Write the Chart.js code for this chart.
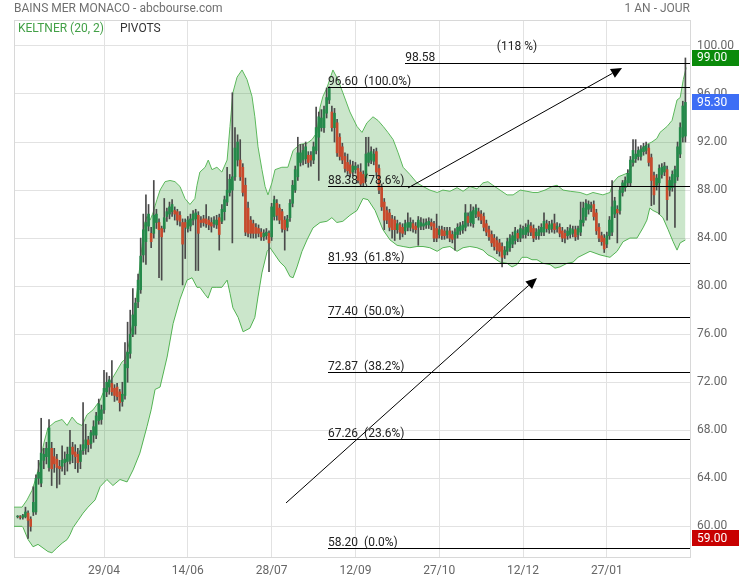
<!DOCTYPE html>
<html><head><meta charset="utf-8">
<script src="https://cdn.jsdelivr.net/npm/chart.js@4.4.1/dist/chart.umd.min.js"></script>
<style>html,body{margin:0;padding:0;background:#fff;}#wrap{width:739px;height:580px;}</style>
</head><body><div id="wrap"><canvas id="c" width="739" height="580"></canvas></div>
<script>
// ---- DATA ----
const opens = [
60.8,60.8,60.75,60.8,61.1,60.6,61.2,61.2,64.0,63.6,
65.5,65.8,64.9,66.5,65.8,65.6,65.0,65.0,65.3,65.4,
65.5,66.6,66.2,66.0,65.4,66.3,66.5,67.2,66.9,67.6,
67.6,68.8,68.9,69.7,71.2,71.6,71.9,71.5,71.6,71.2,
70.4,70.9,73.2,74.4,76.0,76.7,78.7,79.7,82.6,83.7,
85.0,84.4,84.4,85.3,85.3,84.8,84.8,85.8,86.0,86.2,
86.3,86.2,85.9,85.3,85.3,84.8,85.0,85.5,85.6,85.9,
85.5,85.6,85.6,85.5,85.3,85.2,85.1,85.7,85.4,86.2,
87.0,87.8,88.0,89.1,90.5,90.5,89.9,88.4,86.5,85.5,
85.2,84.9,84.8,84.5,84.1,84.2,84.4,84.1,85.8,86.9,
86.5,86.2,85.5,84.9,85.7,86.9,88.0,89.1,90.3,90.5,
90.6,90.9,90.9,90.5,91.3,92.4,93.2,93.2,94.4,95.5,
94.5,93.2,93.6,92.4,91.6,90.8,90.3,90.1,89.5,89.7,
89.8,89.5,89.3,89.0,90.3,90.5,90.4,91.2,89.8,88.2,
87.0,86.3,86.1,85.6,85.5,84.7,85.1,84.9,84.6,84.9,
84.9,85.2,85.0,84.9,85.0,85.0,85.1,85.1,85.3,85.2,
84.8,84.3,84.7,84.6,84.3,84.6,84.3,84.0,84.3,84.6,
84.7,84.9,85.8,85.3,85.2,86.0,86.2,86.0,85.8,85.2,
84.7,84.3,84.0,83.8,83.6,83.3,82.6,82.9,83.2,83.5,
83.8,84.4,84.0,84.3,84.3,84.5,85.0,84.8,84.2,84.2,
84.5,84.5,85.2,84.7,84.8,85.2,84.8,84.9,84.6,84.4,
84.2,84.3,84.4,84.7,84.3,84.5,85.3,85.8,86.4,86.5,
86.8,86.1,84.9,84.2,84.0,83.5,84.2,84.5,86.0,86.4,
86.3,87.8,88.2,88.6,88.6,90.3,90.6,90.8,90.8,91.2,
91.3,91.5,90.7,89.2,88.4,88.6,89.3,89.5,89.7,88.0,
88.2,88.6,89.1,91.0,92.4,92.5];
const highs = [
60.9,60.9,61.0,61.6,61.3,60.8,63.3,64.3,65.5,69.0,
66.5,67.0,68.9,67.0,66.5,66.0,65.5,66.7,66.2,66.6,
68.0,67.0,66.8,66.5,66.8,70.3,68.5,67.5,68.0,68.8,
69.5,70.6,70.1,73.0,72.8,72.5,73.8,71.8,71.9,71.4,
72.0,75.3,77.0,78.0,79.8,79.0,81.0,84.0,86.0,87.6,
86.8,84.9,88.8,86.4,85.6,85.0,87.3,86.5,87.0,87.2,
86.6,86.4,86.2,85.6,85.6,85.8,86.0,86.3,86.4,86.2,
85.8,85.9,86.8,85.8,85.7,85.8,85.9,86.0,86.8,87.5,
89.9,89.3,96.1,93.2,92.6,92.2,90.2,89.0,87.0,85.8,
85.5,85.2,85.1,84.8,84.7,84.8,84.6,86.9,87.5,87.2,
86.8,86.4,85.8,85.9,87.2,88.8,90.0,92.4,91.8,91.8,
92.0,91.2,91.2,92.0,94.9,94.5,94.7,95.0,96.5,96.6,
95.0,94.8,93.9,92.7,91.9,91.1,91.0,90.5,90.4,90.3,
90.1,90.2,89.6,92.4,92.4,91.6,91.4,91.5,90.1,88.5,
87.3,86.6,86.4,85.9,85.8,85.5,85.3,85.2,85.5,86.1,
85.7,85.5,85.3,85.8,85.7,85.6,85.6,85.7,85.6,85.4,
86.0,85.0,85.0,84.9,84.9,84.9,84.6,84.8,85.2,85.3,
85.4,86.8,86.1,86.8,86.6,86.8,86.5,86.3,86.1,85.5,
85.0,84.6,84.3,84.1,83.9,83.6,83.3,84.0,84.3,84.5,
84.9,84.7,85.1,85.0,85.2,85.5,85.3,85.1,84.8,85.0,
85.2,86.1,85.5,85.4,85.5,86.0,85.3,85.2,84.9,84.7,
84.9,85.1,85.0,85.0,85.0,87.0,87.0,87.2,87.1,87.0,
87.1,86.4,85.2,84.5,84.3,84.5,85.8,88.8,87.4,86.7,
88.3,88.8,89.1,89.7,90.8,92.2,92.2,91.6,91.7,91.9,
92.0,91.8,91.0,89.5,89.3,90.1,90.2,90.3,90.0,89.1,
89.6,90.0,92.0,93.6,95.4,99.0];
const lows = [
60.7,60.6,60.6,60.7,59.0,59.6,60.9,61.0,63.5,63.3,
64.8,65.2,64.6,63.4,64.5,63.2,63.5,64.6,64.3,64.6,
65.2,65.3,64.8,64.5,64.8,66.0,66.0,66.2,66.5,67.0,
67.3,68.5,68.5,69.4,70.8,71.0,70.9,70.4,70.5,69.6,
70.0,70.6,72.0,74.0,75.8,76.0,78.2,79.4,82.0,81.8,
84.6,83.2,84.0,84.8,80.7,80.5,84.5,85.4,85.6,85.8,
85.5,85.1,85.0,80.1,82.3,84.5,84.6,85.1,81.3,81.3,
84.9,85.0,84.9,84.7,84.5,84.9,84.8,83.0,85.2,85.5,
86.7,87.5,83.6,88.8,90.0,88.8,87.5,84.2,84.1,84.0,
84.0,84.0,84.1,83.8,83.8,83.9,81.2,83.8,85.5,85.5,
85.2,84.5,83.0,84.6,85.4,86.6,87.8,88.8,90.0,90.1,
90.2,89.9,90.0,90.2,91.0,88.8,92.9,92.8,94.0,95.2,
92.9,92.0,90.8,90.5,90.2,89.5,89.3,89.1,89.2,89.4,
88.6,88.3,88.3,88.7,90.0,90.2,90.1,89.2,87.7,86.3,
84.7,85.2,84.6,84.0,83.8,84.4,83.9,84.1,84.3,84.6,
84.6,84.5,84.4,83.4,84.7,84.7,84.8,84.8,84.7,83.7,
83.7,84.0,83.9,83.9,84.0,83.7,83.6,83.0,84.0,84.3,
84.4,84.6,85.0,85.0,84.9,85.7,85.5,85.2,84.6,84.2,
83.8,83.3,83.0,82.7,82.5,81.6,82.3,82.6,82.9,83.2,
83.5,83.7,83.7,84.0,84.0,84.2,84.2,83.7,83.9,83.9,
84.2,84.2,84.5,84.4,84.5,84.4,84.5,84.1,83.7,83.6,
83.9,84.0,84.1,83.8,83.9,84.2,85.0,85.5,86.0,86.2,
85.5,84.3,83.7,83.4,82.8,83.2,83.9,84.2,85.7,83.6,
86.0,87.5,87.9,88.3,88.3,90.0,90.3,90.5,90.5,90.9,
91.0,90.0,86.7,86.8,88.0,86.0,89.0,89.2,85.5,87.5,
87.9,84.9,88.8,90.7,92.0,92.0];
const closes = [
60.85,60.75,60.9,61.2,60.5,60.0,62.0,64.0,64.5,66.1,
66.0,66.5,68.2,64.8,65.2,64.9,64.8,65.5,65.6,66.0,
66.6,66.0,65.8,65.3,66.3,66.8,67.2,66.8,67.8,68.3,
69.2,70.2,69.7,71.5,72.0,72.2,71.2,70.9,70.8,70.3,
71.0,73.5,74.5,76.0,77.6,78.6,80.5,82.5,84.7,85.3,
86.0,83.7,85.9,86.0,84.7,84.1,85.7,86.2,86.6,86.8,
86.0,85.5,85.4,83.5,84.9,85.5,85.6,86.0,86.1,84.4,
85.3,85.3,85.2,85.1,85.0,85.5,85.5,84.3,86.4,87.2,
88.0,88.9,89.1,91.5,92.0,89.1,87.8,84.5,84.4,84.4,
84.4,84.4,84.4,84.1,84.4,84.5,83.6,86.6,87.2,85.9,
85.5,84.8,84.7,85.6,86.9,88.4,89.7,91.1,91.1,91.3,
91.6,90.3,90.5,91.6,93.2,94.1,94.0,94.7,95.7,96.5,
93.2,94.4,91.1,90.8,90.5,89.8,89.6,89.4,90.0,90.0,
88.8,88.5,88.6,91.0,91.1,91.2,91.0,89.5,88.0,86.6,
85.5,85.5,84.9,84.7,84.7,85.2,84.5,84.4,85.2,85.3,
85.3,84.8,84.7,85.5,85.3,85.2,85.3,85.4,85.0,84.0,
84.0,84.7,84.2,84.2,84.6,84.0,83.9,84.5,84.9,85.0,
85.1,86.1,85.3,86.2,86.3,86.5,85.8,85.5,84.9,84.5,
84.1,83.6,83.3,83.0,82.9,82.4,83.0,83.7,84.0,84.2,
84.6,84.0,84.8,84.7,84.9,85.1,84.5,84.0,84.5,84.7,
84.9,85.4,84.8,85.1,85.2,84.7,85.0,84.4,84.0,84.0,
84.6,84.8,84.7,84.1,84.8,85.5,86.5,86.9,86.8,86.7,
85.8,84.6,84.0,83.7,83.1,84.2,85.5,86.6,87.1,86.1,
88.0,88.6,88.8,89.4,90.5,91.3,91.0,91.3,91.4,91.6,
91.7,90.3,88.8,87.6,89.0,89.8,89.9,90.0,87.2,88.8,
89.3,89.7,91.6,93.2,95.0,95.3];

// Keltner band (bar index, price)
const upperIdx = [-1.4,1.7,3.6,5.5,7.0,8.6,10.1,11.6,14.3,17.0,18.9,20.8,22.7,24.6,26.5,28.8,31.5,32.6,36.4,39.9,41.0,42.2,43.7,44.8,46.0,47.5,48.6,49.4,50.6,51.7,53.2,54.4,56.3,58.2,60.1,62.0,63.9,65.8,67.7,68.5,69.6,71.6,72.8,74.2,76.1,78.0,80.0,81.1,82.2,83.8,85.7,87.6,89.5,90.6,91.8,93.3,94.5,95.6,97.1,98.3,100.9,103.2,105.2,107.8,110.5,112.4,114.3,115.5,116.6,118.1,120.4,122.3,124.2,126.9,129.6,131.5,133.4,135.7,137.6,139.6,141.4,143.4,145.3,147.2,149.8,152.5,154.8,157.4,160.2,162.4,165.1,167.8,170.1,172.7,175.4,177.7,179.6,181.5,184.2,186.9,189.2,191.9,194.5,196.8,198.7,201.4,204.1,206.0,208.3,211.0,214.8,217.4,219.7,223.5,226.2,227.3,229.3,232.7,235.0,237.6,240.3,242.2,244.1,245.3,248.0,249.9,251.8,253.0,254.2,255.3];
const upperVal = [61.6,61.6,62.2,63.0,64.0,65.4,67.0,68.2,68.7,68.9,68.4,69.1,68.6,68.4,69.3,69.7,70.5,71.1,72.4,73.7,73.9,74.9,76.6,78.0,80.3,83.3,85.3,85.8,85.5,86.1,87.2,88.0,88.7,88.8,88.7,88.3,87.3,86.8,87.3,88.4,89.5,89.9,90.5,89.7,89.9,89.5,90.5,93.3,96.1,97.4,98.0,97.2,95.8,94.1,91.6,89.7,88.3,87.6,88.6,89.7,89.9,89.9,91.3,91.8,91.9,92.2,92.8,94.9,95.8,96.5,98.0,97.2,96.1,94.5,93.3,92.8,93.6,94.1,93.8,93.3,92.8,92.2,91.1,89.9,89.3,88.6,88.3,88.0,87.8,88.0,87.9,88.2,87.9,88.3,88.1,88.6,88.7,88.4,88.0,87.6,87.6,88.0,87.9,87.8,87.8,88.0,88.3,88.4,88.0,87.9,87.8,87.6,87.8,87.6,87.8,88.6,89.1,89.4,90.1,91.3,91.8,92.0,92.3,92.8,93.3,93.8,95.5,95.7,97.2,98.2];
const lowerIdx = [-1.4,1.7,2.1,4.0,5.9,7.8,9.7,11.6,13.1,15.0,17.0,18.9,20.0,21.2,23.1,25.0,26.9,29.6,31.5,34.1,36.4,39.1,41.8,44.1,46.7,49.4,51.0,52.5,54.4,57.1,59.4,62.0,64.7,66.6,68.5,69.6,71.6,72.7,74.2,76.1,78.0,80.0,81.1,82.2,84.2,86.1,88.7,90.6,91.8,93.3,95.3,96.4,98.3,100.2,102.1,104.0,105.2,106.7,108.6,110.5,112.8,115.5,118.1,120.0,121.9,124.2,126.9,129.6,131.9,133.8,136.5,139.5,142.2,144.9,147.2,149.8,152.5,154.8,157.4,160.2,162.4,165.1,167.8,170.1,172.7,175.4,177.7,179.6,181.5,184.2,186.9,188.8,190.7,192.6,194.5,196.4,198.3,200.6,203.3,205.2,207.1,209.8,212.1,214.0,218.6,222.4,226.2,228.9,231.2,233.8,236.5,238.8,240.3,241.4,242.6,244.5,246.4,248.4,250.3,251.8,253.0,255.0];
const lowerVal = [60.0,60.0,59.9,58.9,58.3,58.5,58.2,57.9,57.8,58.2,58.6,58.9,59.3,59.9,60.5,61.1,61.6,62.2,63.3,63.9,63.4,63.9,63.7,64.7,66.1,68.3,69.7,71.4,71.6,74.1,76.9,78.9,80.5,80.7,79.9,79.9,79.3,79.0,79.9,79.9,79.9,80.5,79.4,78.2,77.4,76.2,76.5,77.4,79.1,81.1,82.9,83.2,82.6,82.0,81.6,80.8,80.7,81.6,82.9,83.85,84.85,85.3,85.4,85.7,85.3,85.4,85.9,86.3,87.3,87.2,86.3,84.7,83.85,83.4,83.3,83.2,83.3,83.3,83.2,82.9,83.2,83.3,82.9,83.2,83.3,83.2,83.0,82.6,82.4,82.0,81.9,81.6,81.8,82.4,82.4,82.2,82.2,81.9,81.8,81.5,81.6,81.9,82.0,82.4,82.9,82.6,82.4,82.9,83.7,84.0,84.0,84.85,85.5,86.5,86.3,86.1,85.7,84.7,83.7,83.0,83.6,83.85];

// axes
const xTickIdx = [33,65,97,129,161,193,225];
const xTickLabels = ['29/04','14/06','28/07','12/09','27/10','12/12','27/01'];
const yTicks = [60,64,68,72,76,80,84,88,92,96,100];
const xMin = -1.375, xMax = 256.75, yMin = 57.45, yMax = 102.16;

// Fibonacci retracement
const fibLevels = [58.20,67.26,72.87,77.40,81.93,88.38,96.60];
const fibLabels = ['58.20  (0.0%)','67.26  (23.6%)','72.87  (38.2%)','77.40  (50.0%)','81.93  (61.8%)','88.38  (78.6%)','96.60  (100.0%)'];
const fibStartIdx = 118.5;
const extLevel = 98.58, extStartIdx = 148, extLabel = '98.58';
const extPctLabel = '(118 %)', extPctIdx = 183.0, extPctValue = 99.67;
// arrows [fromIdx, fromVal, toIdx, toVal]
const arrows = [[102.5,61.95,198.3,80.68],[149.1,88.18,230.8,98.17]];
// price tags
const tags = [{v:99.00,t:'99.00',c:'#0a8a0a'},{v:95.30,t:'95.30',c:'#3d6ef5'},{v:59.00,t:'59.00',c:'#c80000'}];

// ---- CHART ----
const UP = '#24894a', DOWN = '#c84a2c', WICK = '#4a4a4a';
const GRID = '#e2e2e2';
Chart.defaults.font.family = 'Roboto, "Open Sans", sans-serif';
const idx = opens.map((_, i) => i);

const overlay = {
  id: 'overlay',
  beforeDatasetsDraw(chart) {
    const {ctx, chartArea: a} = chart;
    ctx.save();
    ctx.strokeStyle = '#d8d8d8'; ctx.lineWidth = 1;
    ctx.strokeRect(a.left + 0.5, a.top + 0.5, a.right - a.left, a.bottom - a.top);
    ctx.restore();
  },
  afterDatasetsDraw(chart) {
    const {ctx, chartArea: a} = chart;
    const xs = chart.scales.x, ys = chart.scales.y;
    ctx.save();
    ctx.strokeStyle = '#000'; ctx.lineWidth = 1;
    ctx.fillStyle = '#222';
    ctx.font = '12px Roboto';
    ctx.textBaseline = 'alphabetic'; ctx.textAlign = 'left';
    const x0 = xs.getPixelForValue(fibStartIdx);
    fibLevels.forEach((lv, k) => {
      const y = Math.round(ys.getPixelForValue(lv)) + 0.5;
      ctx.beginPath(); ctx.moveTo(Math.round(x0), y); ctx.lineTo(a.right, y); ctx.stroke();
      ctx.fillText(fibLabels[k], x0, y - 2.5);
    });
    const xe = xs.getPixelForValue(extStartIdx);
    const ye = Math.round(ys.getPixelForValue(extLevel)) + 0.5;
    ctx.beginPath(); ctx.moveTo(Math.round(xe), ye); ctx.lineTo(a.right, ye); ctx.stroke();
    ctx.fillText(extLabel, xe, ye - 2.5);
    ctx.fillText(extPctLabel, xs.getPixelForValue(extPctIdx), ys.getPixelForValue(extPctValue));
    // arrows
    ctx.fillStyle = '#000';
    arrows.forEach(([i1, v1, i2, v2]) => {
      const x1 = xs.getPixelForValue(i1), y1 = ys.getPixelForValue(v1);
      const x2 = xs.getPixelForValue(i2), y2 = ys.getPixelForValue(v2);
      const ang = Math.atan2(y2 - y1, x2 - x1);
      const L = 11, W = 5;
      const bx = x2 - L * Math.cos(ang), by = y2 - L * Math.sin(ang);
      ctx.beginPath(); ctx.moveTo(x1, y1); ctx.lineTo(bx, by); ctx.stroke();
      ctx.beginPath();
      ctx.moveTo(x2, y2);
      ctx.lineTo(bx + W * Math.sin(ang), by - W * Math.cos(ang));
      ctx.lineTo(bx - W * Math.sin(ang), by + W * Math.cos(ang));
      ctx.closePath(); ctx.fill();
    });
    ctx.restore();
  },
  afterDraw(chart) {
    const {ctx, chartArea: a, width} = chart;
    const ys = chart.scales.y;
    ctx.save();
    ctx.font = '12px Roboto';
    ctx.textBaseline = 'middle'; ctx.textAlign = 'left';
    tags.forEach(t => {
      const y = ys.getPixelForValue(t.v);
      ctx.fillStyle = t.c;
      ctx.fillRect(a.right + 2, Math.round(y - 8), width - a.right - 2, 16);
      ctx.fillStyle = '#fff';
      ctx.fillText(t.t, a.right + 7, y + 0.5);
    });
    // header
    ctx.fillStyle = '#707070';
    ctx.font = '12px Roboto';
    ctx.fillText('BAINS MER MONACO - abcbourse.com', 14, 9);
    ctx.textAlign = 'right';
    ctx.fillText('1 AN - JOUR', a.right, 9);
    ctx.textAlign = 'left';
    ctx.fillStyle = '#43a047';
    ctx.fillText('KELTNER (20, 2)', 18, 29);
    ctx.fillStyle = '#333';
    ctx.fillText('PIVOTS', 120, 29);
    ctx.restore();
  }
};

new Chart(document.getElementById('c'), {
  type: 'bar',
  data: {
    datasets: [
      {
        type: 'bar', label: 'body',
        data: idx.map(i => ({x: i, y: [opens[i], closes[i]]})),
        backgroundColor: idx.map(i => closes[i] >= opens[i] ? UP : DOWN),
        borderWidth: 0, grouped: false, barPercentage: 1, categoryPercentage: 1,
        maxBarThickness: 2, order: 0
      },
      {
        type: 'bar', label: 'wick',
        data: idx.map(i => ({x: i, y: [lows[i], highs[i]]})),
        backgroundColor: WICK,
        borderWidth: 0, grouped: false, barPercentage: 1, categoryPercentage: 1,
        maxBarThickness: 1, order: 1
      },
      {
        type: 'line', label: 'upper',
        data: upperIdx.map((x, k) => ({x, y: upperVal[k]})),
        borderColor: '#5cb85c', borderWidth: 1, pointRadius: 0, tension: 0,
        backgroundColor: 'rgba(20,140,20,0.22)', fill: '+1', order: 2
      },
      {
        type: 'line', label: 'lower',
        data: lowerIdx.map((x, k) => ({x, y: lowerVal[k]})),
        borderColor: '#5cb85c', borderWidth: 1, pointRadius: 0, tension: 0,
        fill: false, order: 3
      }
    ]
  },
  options: {
    responsive: false, animation: false, devicePixelRatio: 1,
    layout: {padding: {left: 14, top: 20, right: 0, bottom: 0}},
    plugins: {legend: {display: false}, tooltip: {enabled: false}},
    scales: {
      x: {
        type: 'linear', min: xMin, max: xMax, offset: false,
        grid: {color: GRID, drawTicks: false, offset: false},
        border: {display: true, color: '#d8d8d8'},
        afterBuildTicks: s => { s.ticks = xTickIdx.map(v => ({value: v})); },
        afterFit: s => { s.height = 23; },
        ticks: {
          padding: 7, color: '#666', font: {size: 12}, maxRotation: 0, autoSkip: false,
          callback: v => { const k = xTickIdx.indexOf(v); return k >= 0 ? xTickLabels[k] : ''; }
        }
      },
      y: {
        type: 'linear', position: 'right', min: yMin, max: yMax, beginAtZero: false,
        grid: {color: GRID, drawTicks: false},
        border: {display: true, color: '#d8d8d8'},
        afterBuildTicks: s => { s.ticks = yTicks.map(v => ({value: v})); },
        afterFit: s => { s.width = 49; },
        ticks: {padding: 7, color: '#666', font: {size: 12}, labelOffset: 0, callback: v => Number(v).toFixed(2)}
      }
    }
  },
  plugins: [overlay]
});
</script>
</body></html>
